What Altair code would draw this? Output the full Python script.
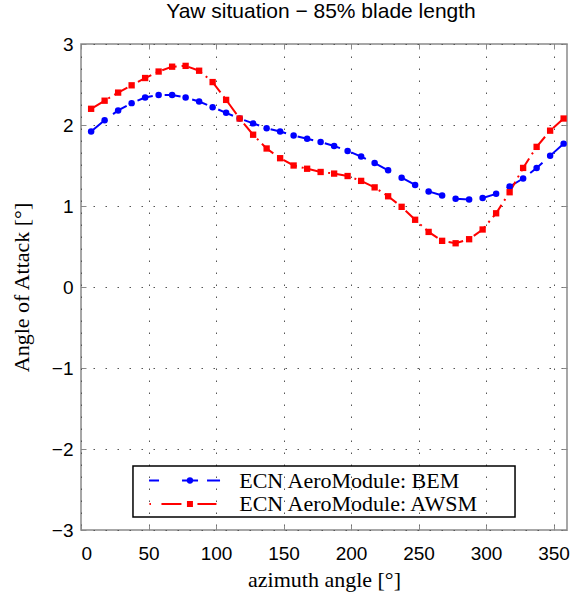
import altair as alt
import pandas as pd

# ---------------- data ----------------
azimuth = [7.5, 17.5, 27.5, 37.5, 47.5, 57.5, 67.5, 77.5, 87.5, 97.5,
           107.5, 117.5, 127.5, 137.5, 147.5, 157.5, 167.5, 177.5, 187.5, 197.5,
           207.5, 217.5, 227.5, 237.5, 247.5, 257.5, 267.5, 277.5, 287.5, 297.5,
           307.5, 317.5, 327.5, 337.5, 347.5, 357.5]
bem = [1.92, 2.06, 2.18, 2.27, 2.34, 2.37, 2.37, 2.34, 2.29, 2.22,
       2.15, 2.08, 2.02, 1.96, 1.92, 1.87, 1.83, 1.79, 1.74, 1.68,
       1.61, 1.53, 1.44, 1.35, 1.26, 1.18, 1.13, 1.09, 1.08, 1.10,
       1.15, 1.24, 1.34, 1.47, 1.62, 1.77]
awsm = [2.20, 2.30, 2.40, 2.49, 2.58, 2.66, 2.72, 2.73, 2.67, 2.53,
        2.31, 2.08, 1.88, 1.71, 1.59, 1.50, 1.46, 1.42, 1.40, 1.37,
        1.31, 1.23, 1.12, 0.99, 0.83, 0.68, 0.57, 0.54, 0.59, 0.71,
        0.91, 1.17, 1.47, 1.73, 1.93, 2.08]

BEM_LABEL = "ECN AeroModule: BEM"
AWSM_LABEL = "ECN AeroModule: AWSM"
series_names = [BEM_LABEL, AWSM_LABEL]
series_colors = ["#0000ff", "#ff0000"]

x_ticks = [0, 50, 100, 150, 200, 250, 300, 350]
y_ticks = [-3, -2, -1, 0, 1, 2, 3]

title_text = "Yaw situation \u2212 85% blade length"
x_title = "azimuth angle [\u00b0]"
y_title = "Angle of Attack [\u00b0]"

df = pd.DataFrame({
    "azimuth": azimuth + azimuth,
    "aoa": bem + awsm,
    "series": [BEM_LABEL] * len(bem) + [AWSM_LABEL] * len(awsm),
})

# legend (drawn in the plot's own axis units, lower part of the plot)
legend_df = pd.DataFrame({
    "label": series_names,
    "row": [-2.389, -2.679],
    "x0": [50.4, 50.7],
    "x1": [103.0, 100.7],
    "xm": [80.7, 80.7],
    "xt": [117.2, 117.2],
})
legend_box = pd.DataFrame({"x0": [38.5], "x1": [321.5], "y0": [-2.21], "y1": [-2.84]})

# ---------------- scales / axes ----------------
xscale = alt.Scale(domain=[0, 360], nice=False, zero=False)
yscale = alt.Scale(domain=[-3, 3], nice=False, zero=False)

FRAME = "#8a8a8a"
GRID = "#555555"

main_x = alt.Axis(
    orient="bottom", values=x_ticks, grid=True, gridColor=GRID, gridDash=[1.5, 10.5],
    gridWidth=1, gridOpacity=1, ticks=False, domain=False,
    labelFont="Liberation Sans", labelFontSize=19, labelColor="black", labelPadding=14,
    title=x_title, titleFont="Liberation Serif", titleFontSize=22, titleFontWeight="normal",
    titleColor="black", titleBaseline="alphabetic", titleY=56.5,
)
main_y = alt.Axis(
    orient="left", values=y_ticks, grid=True, gridColor=GRID, gridDash=[1.5, 10.5],
    gridWidth=1, gridOpacity=1, ticks=False, domain=False,
    labelFont="Liberation Sans", labelFontSize=19, labelColor="black", labelPadding=8,
    title=y_title, titleFont="Liberation Serif", titleFontSize=22, titleFontWeight="normal",
    titleColor="black", titleBaseline="alphabetic", titleX=-53, titleY=243,
)


def tick_axis(orient, values):
    return alt.Axis(orient=orient, values=values, grid=False, labels=False, domain=False,
                    ticks=True, tickSize=5, tickColor=FRAME, tickWidth=1, offset=-5)


base = alt.Chart(df)

lines = base.mark_line(strokeWidth=2).encode(
    x=alt.X("azimuth:Q", scale=xscale, axis=main_x),
    y=alt.Y("aoa:Q", scale=yscale, axis=main_y),
    color=alt.Color("series:N", scale=alt.Scale(domain=series_names, range=series_colors),
                    legend=None),
    strokeDash=alt.StrokeDash("series:N",
                              scale=alt.Scale(domain=series_names,
                                              range=[[16, 12], [15, 5, 2, 5]]),
                              legend=None),
)

bem_pts = base.transform_filter(alt.datum.series == BEM_LABEL).mark_point(
    filled=True, shape="circle", size=42, opacity=1, color=series_colors[0]
).encode(
    x=alt.X("azimuth:Q", scale=xscale, axis=tick_axis("top", x_ticks), title=None),
    y=alt.Y("aoa:Q", scale=yscale, axis=tick_axis("right", y_ticks), title=None),
)

awsm_pts = base.transform_filter(alt.datum.series == AWSM_LABEL).mark_point(
    filled=True, shape="square", size=40, opacity=1, color=series_colors[1]
).encode(
    x=alt.X("azimuth:Q", scale=xscale, axis=tick_axis("bottom", x_ticks), title=None),
    y=alt.Y("aoa:Q", scale=yscale, axis=tick_axis("left", y_ticks), title=None),
)

# ---------------- legend ----------------
box = alt.Chart(legend_box).mark_rect(
    filled=False, stroke="black", strokeWidth=1.5
).encode(
    x=alt.X("x0:Q", scale=xscale, axis=None), x2="x1:Q",
    y=alt.Y("y0:Q", scale=yscale, axis=None), y2="y1:Q",
)

leg = alt.Chart(legend_df)


def leg_rule(label, color, dash):
    return leg.transform_filter(alt.datum.label == label).mark_rule(
        color=color, strokeWidth=2, strokeDash=dash, strokeCap="butt"
    ).encode(
        x=alt.X("x0:Q", scale=xscale, axis=None), x2="x1:Q",
        y=alt.Y("row:Q", scale=yscale, axis=None),
    )


def leg_marker(label, color, shape, size):
    return leg.transform_filter(alt.datum.label == label).mark_point(
        filled=True, shape=shape, size=size, opacity=1, color=color
    ).encode(
        x=alt.X("xm:Q", scale=xscale, axis=None),
        y=alt.Y("row:Q", scale=yscale, axis=None),
    )


bem_rule = leg_rule(BEM_LABEL, series_colors[0], [10, 23, 16, 9, 13, 60])
awsm_rule = leg_rule(AWSM_LABEL, series_colors[1], [1.5, 10.5, 20, 16, 19, 60])
bem_mark = leg_marker(BEM_LABEL, series_colors[0], "circle", 40)
awsm_mark = leg_marker(AWSM_LABEL, series_colors[1], "square", 36)

leg_text = leg.mark_text(
    align="left", baseline="middle", font="Liberation Serif", fontSize=22, color="black"
).encode(
    x=alt.X("xt:Q", scale=xscale, axis=None),
    y=alt.Y("row:Q", scale=yscale, axis=None),
    text="label:N",
)

chart = alt.layer(
    lines, bem_pts, awsm_pts, box, bem_rule, awsm_rule, bem_mark, awsm_mark, leg_text
).resolve_axis(
    x="independent", y="independent"
).properties(
    width=486, height=486,
    title=alt.TitleParams(title_text, font="Liberation Sans", fontSize=21,
                          fontWeight="normal", color="black", anchor="middle",
                          frame="group", offset=13, dx=-3),
    autosize=alt.AutoSizeParams(type="none"),
    padding={"left": 81, "top": 44, "right": 6, "bottom": 64},
    background="white",
).configure_view(
    stroke=FRAME, strokeWidth=1.5
)

chart.save("out.html", embed_options={"renderer": "svg", "actions": False})
